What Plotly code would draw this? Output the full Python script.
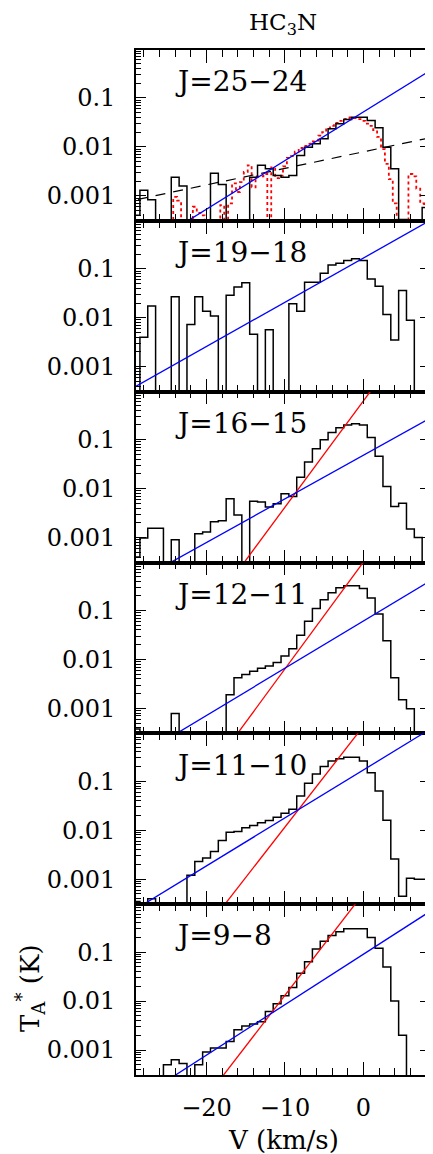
import numpy as np
import plotly.graph_objects as go
from plotly.subplots import make_subplots

# channel centres (km/s), 1 km/s channels
velocity = list(range(-29, 9))

panel_labels = ["J=25\u221224", "J=19\u221218", "J=16\u221215", "J=12\u221211", "J=11\u221210", "J=9\u22128"]

t_25_24 = [4e-4, 1.3e-3, 8.3e-4, 0, 0, 2.4e-3, 1.6e-3, 0, 0, 0, 2.9e-3, 1.7e-3, 0, 0, 0,
           2.4e-3, 4.2e-3, 3.6e-3, 2.6e-3, 2.4e-3, 2.6e-3, 6.7e-3, 0.0099, 0.0116, 0.0147,
           0.0236, 0.0298, 0.0364, 0.0406, 0.0406, 0.0347, 0.0246, 0.0099, 3.6e-3, 3.3e-4,
           0, 0, 5.8e-4]
t_19_18 = [0, 4e-3, 0.0173, 0, 0, 0.027, 0, 0.0073, 0.027, 0.0135, 0.0108, 0, 0.0288,
           0.0423, 0.0518, 0.0046, 0, 0.0057, 0, 0, 0.0194, 0.0136, 0.0533, 0.0533, 0.081,
           0.12, 0.13, 0.148, 0.16, 0.148, 0.062, 0.044, 0.0117, 0.0035, 0.036, 0.0089, 0, 0]
t_16_15 = [4e-4, 9.8e-4, 1.55e-3, 1.55e-3, 0, 9e-4, 0, 0, 1.2e-3, 1.3e-3, 2.1e-3, 2.2e-3,
           6.2e-3, 2.9e-3, 0, 5.5e-3, 5.3e-3, 4.2e-3, 4.9e-3, 7.8e-3, 6.9e-3, 0.017, 0.035,
           0.065, 0.10, 0.14, 0.174, 0.20, 0.21, 0.20, 0.11, 0.046, 0.011, 4.3e-3, 5e-3,
           1.5e-3, 1.0e-3, 0]
t_12_11 = [3.8e-4, 0, 0, 0, 0, 7.9e-4, 0, 0, 0, 0, 0, 3.3e-4, 1.9e-3, 4.2e-3, 4.9e-3,
           5.7e-3, 6.6e-3, 7.3e-3, 8.7e-3, 0.0117, 0.0165, 0.031, 0.06, 0.11, 0.166, 0.23,
           0.29, 0.32, 0.32, 0.28, 0.18, 0.085, 0.024, 4.2e-3, 1.5e-3, 9.8e-4, 0, 0]
t_11_10 = [3.5e-4, 0, 4e-4, 0, 0, 0, 0, 1.2e-3, 2.3e-3, 2.7e-3, 3.7e-3, 6.2e-3, 9.1e-3,
           9.4e-3, 0.0112, 0.0125, 0.0142, 0.0158, 0.0185, 0.0222, 0.027, 0.05, 0.091,
           0.141, 0.2, 0.26, 0.29, 0.31, 0.31, 0.26, 0.15, 0.063, 0.016, 2.6e-3, 4.5e-4,
           1.05e-3, 1.0e-3, 1.0e-3]
t_9_8 = [0, 0, 0, 0, 5e-4, 6.3e-4, 5.3e-4, 0, 5e-4, 9.1e-4, 1.1e-3, 1.1e-3, 1.5e-3,
         2.6e-3, 3.1e-3, 3.4e-3, 3.8e-3, 6.1e-3, 8.8e-3, 0.0129, 0.019, 0.037, 0.064,
         0.116, 0.166, 0.22, 0.26, 0.30, 0.30, 0.30, 0.2, 0.12, 0.05, 0.01, 2e-3, 0, 0, 0]

spectra = [t_25_24, t_19_18, t_16_15, t_12_11, t_11_10, t_9_8]

# higher-resolution J=25-24 spectrum (0.5 km/s channels), red dotted
velocity_hr = list(np.arange(-29.0, 9.0, 0.5))
t_25_24_hr = [0, 0, 0, 0, 0, 0, 0, 0, 0, 0,
              9.5e-4, 8e-4, 0, 0, 0, 6e-4, 4.5e-4, 4e-4, 0, 0, 0, 0, 6.5e-4, 0, 7e-4,
              1.8e-3, 1.2e-3, 1.9e-3, 3.1e-3, 4.2e-3, 1.5e-3, 2.5e-3, 2.5e-3, 2.8e-3, 0,
              3.8e-3, 2.3e-3, 2.6e-3, 4e-3, 6e-3, 6.5e-3, 8e-3, 9.5e-3, 0.0105, 0.0115,
              0.013, 0.0135, 0.017, 0.02, 0.024, 0.027, 0.031, 0.034, 0.037, 0.039, 0.04,
              0.039, 0.037, 0.034, 0.03, 0.027, 0.022, 0.016, 0.009, 0.0045, 0.0022, 7e-4,
              0, 0, 0, 2.8e-3, 2.5e-3, 1.4e-3, 7e-4, 6e-4, 1.2e-3]

# exponential fits: log10(T) = intercept + slope * V
blue_intercept = [-1.286, -0.781, -1.318, -1.216, -0.769, -1.043]
blue_slope = [0.0993, 0.0903, 0.0891, 0.0964, 0.0979, 0.103]
red_intercept = [None, None, -0.21, -0.013, 0.126, 0.199]
red_slope = [None, None, 0.217, 0.218, 0.206, 0.208]
dash_intercept = [-2.10, None, None, None, None, None]
dash_slope = [0.0338, None, None, None, None, None]

ytick_vals = [0.001, 0.01, 0.1]
ytick_text = ["0.001", "0.01", "0.1"]

FLOOR = 1e-6
FONT = "DejaVu Serif"


def steps(centres, values, width):
    c = np.asarray(centres, dtype=float)
    v = np.asarray(values, dtype=float)
    v = np.where(v > 0, v, FLOOR)
    xs = np.append(c - width / 2, c[-1] + width / 2)
    ys = np.append(v, v[-1])
    return xs, ys


fig = make_subplots(rows=6, cols=1, shared_xaxes=True, vertical_spacing=0)

v_line = np.array([velocity[0] - 2, velocity[-1] + 2], dtype=float)

for i in range(6):
    row = i + 1
    if i == 0:
        xs, ys = steps(velocity_hr, t_25_24_hr, 0.5)
        fig.add_trace(go.Scatter(x=xs, y=ys, mode="lines", line_shape="hv",
                                 line=dict(color="#ff0000", width=1.8, dash="dot"),
                                 showlegend=False), row=row, col=1)
    xs, ys = steps(velocity, spectra[i], 1.0)
    fig.add_trace(go.Scatter(x=xs, y=ys, mode="lines", line_shape="hv",
                             line=dict(color="black", width=1.5), showlegend=False),
                  row=row, col=1)
    if dash_intercept[i] is not None:
        fig.add_trace(go.Scatter(x=v_line, y=10 ** (dash_intercept[i] + dash_slope[i] * v_line),
                                 mode="lines", line=dict(color="black", width=1.2, dash="10px,8px"),
                                 showlegend=False), row=row, col=1)
    if red_intercept[i] is not None:
        fig.add_trace(go.Scatter(x=v_line, y=10 ** (red_intercept[i] + red_slope[i] * v_line),
                                 mode="lines", line=dict(color="#ff0000", width=1.3),
                                 showlegend=False), row=row, col=1)
    fig.add_trace(go.Scatter(x=v_line, y=10 ** (blue_intercept[i] + blue_slope[i] * v_line),
                             mode="lines", line=dict(color="#0000ff", width=1.3),
                             showlegend=False), row=row, col=1)

    suffix = "" if row == 1 else str(row)
    fig.add_annotation(text=panel_labels[i], xref=f"x{suffix} domain", yref=f"y{suffix} domain",
                       x=0.126, y=0.814, xanchor="left", yanchor="middle", showarrow=False,
                       font=dict(family=FONT, size=28, color="black"))

minor_y = [m * 10.0 ** e for e in (-4, -3, -2, -1) for m in range(2, 10)]

fig.update_xaxes(range=[-29, 8.5], showline=True, linecolor="black", linewidth=1.6,
                 mirror="ticks", ticks="inside", ticklen=13, tickwidth=1.3, tickcolor="black",
                 tick0=0, dtick=10, showgrid=False, zeroline=False, automargin=False,
                 minor=dict(dtick=2, tick0=0, ticks="inside", ticklen=7, tickwidth=1.3,
                            tickcolor="black", showgrid=False),
                 tickfont=dict(family=FONT, size=24, color="black"), ticklabelstandoff=10)
fig.update_yaxes(type="log", range=[-3.51, -0.02], showline=True, linecolor="black",
                 linewidth=1.6, mirror="ticks", ticks="inside", ticklen=10, tickwidth=1.3,
                 tickcolor="black", tickvals=ytick_vals, ticktext=ytick_text,
                 showgrid=False, zeroline=False, automargin=False,
                 minor=dict(tickvals=minor_y, ticks="inside", ticklen=5, tickwidth=1.1,
                            tickcolor="black", showgrid=False),
                 tickfont=dict(family=FONT, size=24, color="black"), ticklabelstandoff=14)

fig.add_annotation(text="HC<sub>3</sub>N", xref="paper", yref="paper", x=0.5, y=1.0254,
                   xanchor="center", yanchor="middle", showarrow=False, borderpad=0,
                   font=dict(family=FONT, size=23, color="black"))
fig.add_annotation(text="V (km/s)", xref="paper", yref="paper", x=0.5, y=-0.0634,
                   xanchor="center", yanchor="middle", showarrow=False,
                   font=dict(family=FONT, size=26, color="black"))
fig.add_annotation(text="T<sub>A</sub><sup>*</sup> (K)", xref="paper", yref="paper",
                   x=-0.36, y=0.085, xanchor="center", yanchor="middle", textangle=-90,
                   showarrow=False, font=dict(family=FONT, size=26, color="black"))

# the page adds an 8 px body margin, so the figure is 8 px smaller on each axis
fig.update_layout(width=425, height=1146, margin=dict(l=128, r=3, t=42, b=79),
                  paper_bgcolor="white", plot_bgcolor="white", showlegend=False)

fig.write_html("out.html")
